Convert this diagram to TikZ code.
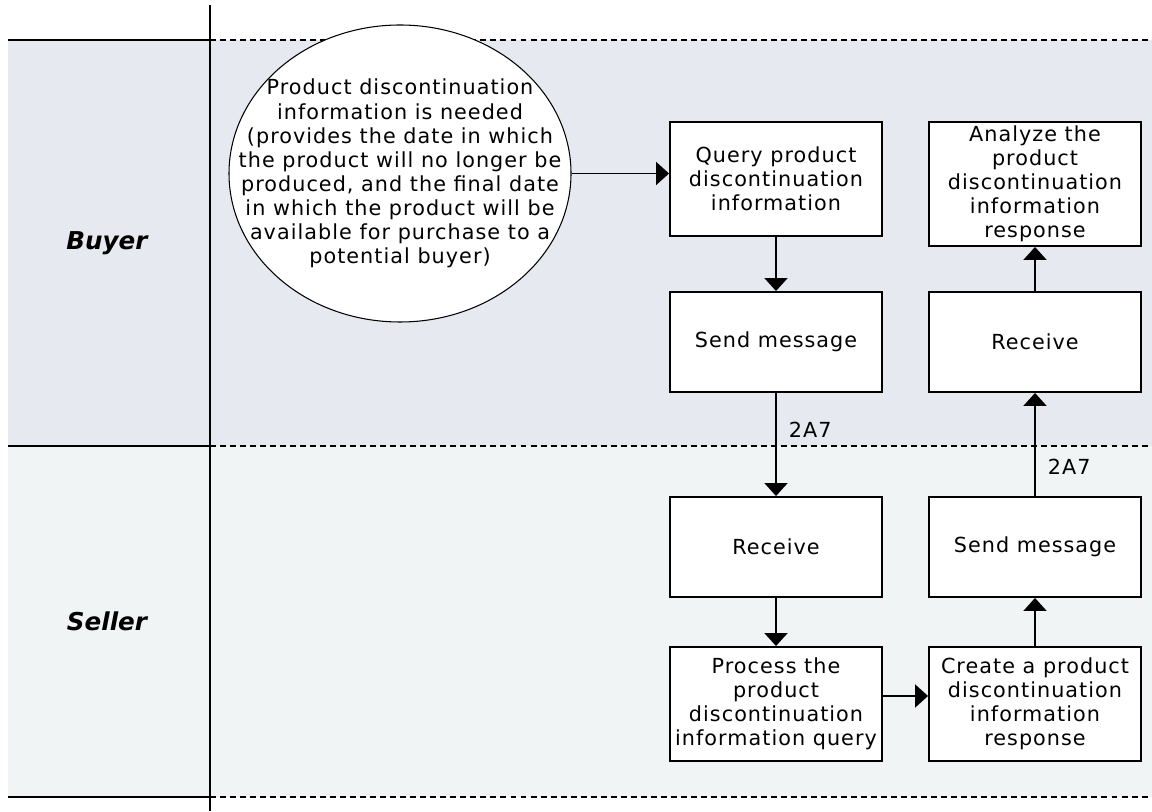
\documentclass[tikz,border=0pt]{standalone}
\usepackage{fontspec}
\setmainfont{DejaVu Sans}[LetterSpace=5]
\newfontfamily\lanefont{DejaVu Sans}
\usetikzlibrary{shapes.geometric,arrows.meta}
\definecolor{buyerlane}{RGB}{231,233,240}
\definecolor{sellerlane}{RGB}{240,244,245}

\begin{document}
\begin{tikzpicture}[line width=1.1pt,
    box/.style={draw, fill=white, minimum width=4.24cm, align=center, inner sep=1.5pt},
    flow/.style={-{Triangle[length=0.26cm,width=0.46cm]}},
    lanedash/.style={dash pattern=on 3.4pt off 2.3pt},
    lanename/.style={anchor=base, font=\lanefont\bfseries\itshape\fontsize{14}{17}\selectfont}]
                \tikzstyle{every node}=[font=\fontsize{11.8}{13.7}\selectfont]
                \useasboundingbox (0,0) rectangle (23.04,16.22);
                % lanes
                \fill[buyerlane] (0.16,7.30) rectangle (23.04,15.42);
                \fill[sellerlane] (0.16,0.28) rectangle (23.04,7.30);
                \foreach \y in {15.42,7.30,0.28} {
                    \draw (0.16,\y) -- (4.2,\y);
                    \draw[lanedash] (4.2,\y) -- (23.04,\y);
                }
                \draw (4.2,0) -- (4.2,16.12);
                \node[lanename] (buyer) at (2.14,11.22) {Buyer};
                \node[lanename] (seller) at (2.14,3.62) {Seller};

                \node[draw, ellipse, fill=white, line width=0.6pt, minimum width=6.84cm, minimum height=5.94cm] (need) at (8.0,12.75) {};
                \node[align=center] (needtext) at (need) {Product discontinuation\\information is needed\\(provides the date in which\\the product will no longer be\\produced, and the final date\\in which the product will be\\available for purchase to a\\potential buyer)};

                \node[box, minimum height=2.28cm] (query) at (15.52,12.64) {Query product\\discontinuation\\information};
                \node[box, minimum height=2.48cm] (analyze) at (20.70,12.54) {Analyze the\\product\\discontinuation\\information\\response};
                \node[box, minimum height=2cm] (bsend) at (15.52,9.38) {Send message};
                \node[box, minimum height=2cm] (breceive) at (20.70,9.38) {Receive};
            \node[box, minimum height=2cm] (sreceive) at (15.52,5.28) {Receive};
            \node[box, minimum height=2cm] (ssend) at (20.70,5.28) {Send message};
            \node[box, minimum height=2.28cm] (process) at (15.52,2.14) {Process the\\product\\discontinuation\\information query};
            \node[box, minimum height=2.28cm] (create) at (20.70,2.14) {Create a product\\discontinuation\\information\\response};

            \draw[flow] (need.east) -- (need.east -| query.west);
            \draw[flow] (query) -- (bsend);
            \draw[flow] (bsend) -- node[pos=0.36, right=0.12cm] (msgout) {2A7} (sreceive);
            \draw[flow] (sreceive) -- (process);
            \draw[flow] ([yshift=0.16cm]process.east) -- ([yshift=0.16cm]create.west);
            \draw[flow] (create) -- (ssend);
            \draw[flow] (ssend) -- node[pos=0.28, right=0.12cm] (msgback) {2A7} (breceive);
            \draw[flow] (breceive) -- (analyze);
          \end{tikzpicture}
\end{document}
